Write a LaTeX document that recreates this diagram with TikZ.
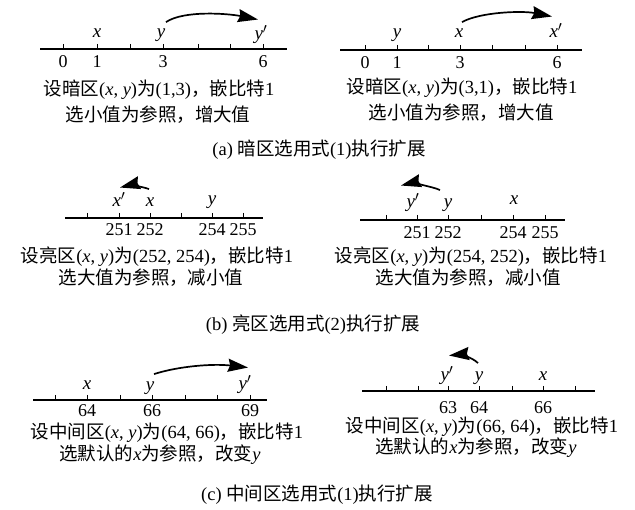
\documentclass[tikz,border=0pt]{standalone}
\usepackage{fontspec}
\setmainfont{Liberation Serif}
\newfontfamily\cjk{Noto Sans CJK SC}
\newcommand{\zh}[1]{{\cjk #1}}
\usetikzlibrary{arrows.meta}
\tikzset{
  axisline/.style={line width=1.5pt},
  tickmark/.style={line width=0.7pt},
  num/.style={font=\fontsize{18}{20}\selectfont, inner sep=0pt, anchor=base},
  var/.style={font=\fontsize{19}{20}\selectfont\itshape, inner sep=0pt, anchor=base},
  txt/.style={font=\fontsize{18.5}{22}\selectfont, inner sep=0pt},
  arr/.style={line width=1.7pt, -{Stealth[length=20pt,width=13pt,inset=2pt]}},
}
\begin{document}
\begin{tikzpicture}[x=1pt,y=-1pt]
\useasboundingbox (0,0) rectangle (635,510);

% ---------- (a) left ----------
\draw[axisline] (40,49) -- (287,49);
\foreach \t in {63,97,130,163,198,230,263} \draw[tickmark] (\t,44) -- (\t,49);
\node[num] (a1n0) at (63,68) {0};
\node[num] (a1n1) at (97,68) {1};
\node[num] (a1n3) at (163,68) {3};
\node[num] (a1n6) at (263,68) {6};
\node[var] (a1x) at (97,38) {x};
\node[var] (a1y) at (161,38) {y};
\node[var] (a1yp) at (261,40) {y$'$};
\draw[arr] ([shift={(5pt,7pt)}]a1y.north) .. controls +(18,-12) and +(-30,-6) .. ([shift={(-3pt,6pt)}]a1yp.north);
\node[txt] (a1t1) at (159,90) {\zh{设暗区}(\textit{x}, \textit{y})\zh{为}(1,3)\zh{，嵌比特}1};
\node[txt] (a1t2) at (158,115) {\zh{选小值为参照，增大值}};

% ---------- (a) right ----------
\draw[axisline] (340,50) -- (582,50);
\foreach \t in {365,397,428,460,492,525,557} \draw[tickmark] (\t,45) -- (\t,50);
\node[num] (a2n0) at (365,69) {0};
\node[num] (a2n1) at (397,69) {1};
\node[num] (a2n3) at (460,69) {3};
\node[num] (a2n6) at (557,69) {6};
\node[var] (a2y) at (397,38) {y};
\node[var] (a2x) at (459,38) {x};
\node[var] (a2xp) at (556,38) {x$'$};
\draw[arr] ([shift={(3pt,7pt)}]a2x.north) .. controls +(18,-10) and +(-30,-6) .. ([shift={(-4pt,7pt)}]a2xp.north);
\node[txt] (a2t1) at (462,88) {\zh{设暗区}(\textit{x}, \textit{y})\zh{为}(3,1)\zh{，嵌比特}1};
\node[txt] (a2t2) at (461,113) {\zh{选小值为参照，增大值}};

\node[txt] (capa) at (319,150) {(a) \zh{暗区选用式}(1)\zh{执行扩展}};

% ---------- (b) left ----------
\draw[axisline] (65,218) -- (263,218);
\foreach \t in {87,119,150,181,212,243} \draw[tickmark] (\t,213) -- (\t,218);
\node[num] (b1n1) at (119,236) {251};
\node[num] (b1n2) at (150,236) {252};
\node[num] (b1n4) at (212,236) {254};
\node[num] (b1n5) at (243,236) {255};
\node[var] (b1xp) at (119,207) {x$'$};
\node[var] (b1x) at (150,207) {x};
\node[var] (b1y) at (212,205) {y};
\draw[arr] ([shift={(-1pt,9pt)}]b1x.north) .. controls +(-8,-3) and +(8,-2) .. ([shift={(1pt,5pt)}]b1xp.north);
\node[txt] (b1t1) at (157,257) {\zh{设亮区}(\textit{x}, \textit{y})\zh{为}(252, 254)\zh{，嵌比特}1};
\node[txt] (b1t2) at (151,278) {\zh{选大值为参照，减小值}};

% ---------- (b) right ----------
\draw[axisline] (360,220) -- (565,220);
\foreach \t in {386,417,448,481,513,545} \draw[tickmark] (\t,215) -- (\t,220);
\node[num] (b2n1) at (417,239) {251};
\node[num] (b2n2) at (448,239) {252};
\node[num] (b2n4) at (513,239) {254};
\node[num] (b2n5) at (545,239) {255};
\node[var] (b2yp) at (413,208) {y$'$};
\node[var] (b2y) at (448,208) {y};
\node[var] (b2x) at (514,205) {x};
\draw[arr] ([shift={(-8pt,9pt)}]b2y.north) .. controls +(-8,-4) and +(8,-2) .. ([shift={(-12pt,8pt)}]b2yp.north);
\node[txt] (b2t1) at (471,257) {\zh{设亮区}(\textit{x}, \textit{y})\zh{为}(254, 252)\zh{，嵌比特}1};
\node[txt] (b2t2) at (468,278) {\zh{选大值为参照，减小值}};

\node[txt] (capb) at (313,325) {(b) \zh{亮区选用式}(2)\zh{执行扩展}};

% ---------- (c) left ----------
\draw[axisline] (33,400) -- (267,400);
\foreach \t in {55,87,120,152,185,217,250} \draw[tickmark] (\t,395) -- (\t,400);
\node[num] (c1n4) at (87,417) {64};
\node[num] (c1n6) at (152,417) {66};
\node[num] (c1n9) at (250,417) {69};
\node[var] (c1x) at (87,390) {x};
\node[var] (c1y) at (150,391) {y};
\node[var] (c1yp) at (245,390) {y$'$};
\draw[arr] ([shift={(4pt,8pt)}]c1y.north) .. controls +(25,-8) and +(-35,-4) .. ([shift={(3pt,8pt)}]c1yp.north);
\node[txt] (c1t1) at (167,433) {\zh{设中间区}(\textit{x}, \textit{y})\zh{为}(64, 66)\zh{，嵌比特}1};
\node[txt] (c1t2) at (160,455) {\zh{选默认的}\textit{x}\zh{为参照，改变}\textit{y}};

% ---------- (c) right ----------
\draw[axisline] (362,391) -- (595,391);
\foreach \t in {386,418,448,479,512,543,575} \draw[tickmark] (\t,386) -- (\t,391);
\node[num] (c2n3) at (448,414) {63};
\node[num] (c2n4) at (479,414) {64};
\node[num] (c2n6) at (543,414) {66};
\node[var] (c2yp) at (447,381) {y$'$};
\node[var] (c2y) at (479,381) {y};
\node[var] (c2x) at (543,381) {x};
\draw[arr] ([shift={(-1pt,9pt)}]c2y.north) .. controls +(-6,-6) and +(10,-1) .. ([shift={(2pt,11pt)}]c2yp.north);
\node[txt] (c2t1) at (482,427) {\zh{设中间区}(\textit{x}, \textit{y})\zh{为}(66, 64)\zh{，嵌比特}1};
\node[txt] (c2t2) at (476,448) {\zh{选默认的}\textit{x}\zh{为参照，改变}\textit{y}};

\node[txt] (capc) at (317,495) {(c) \zh{中间区选用式}(1)\zh{执行扩展}};
\end{tikzpicture}
\end{document}
